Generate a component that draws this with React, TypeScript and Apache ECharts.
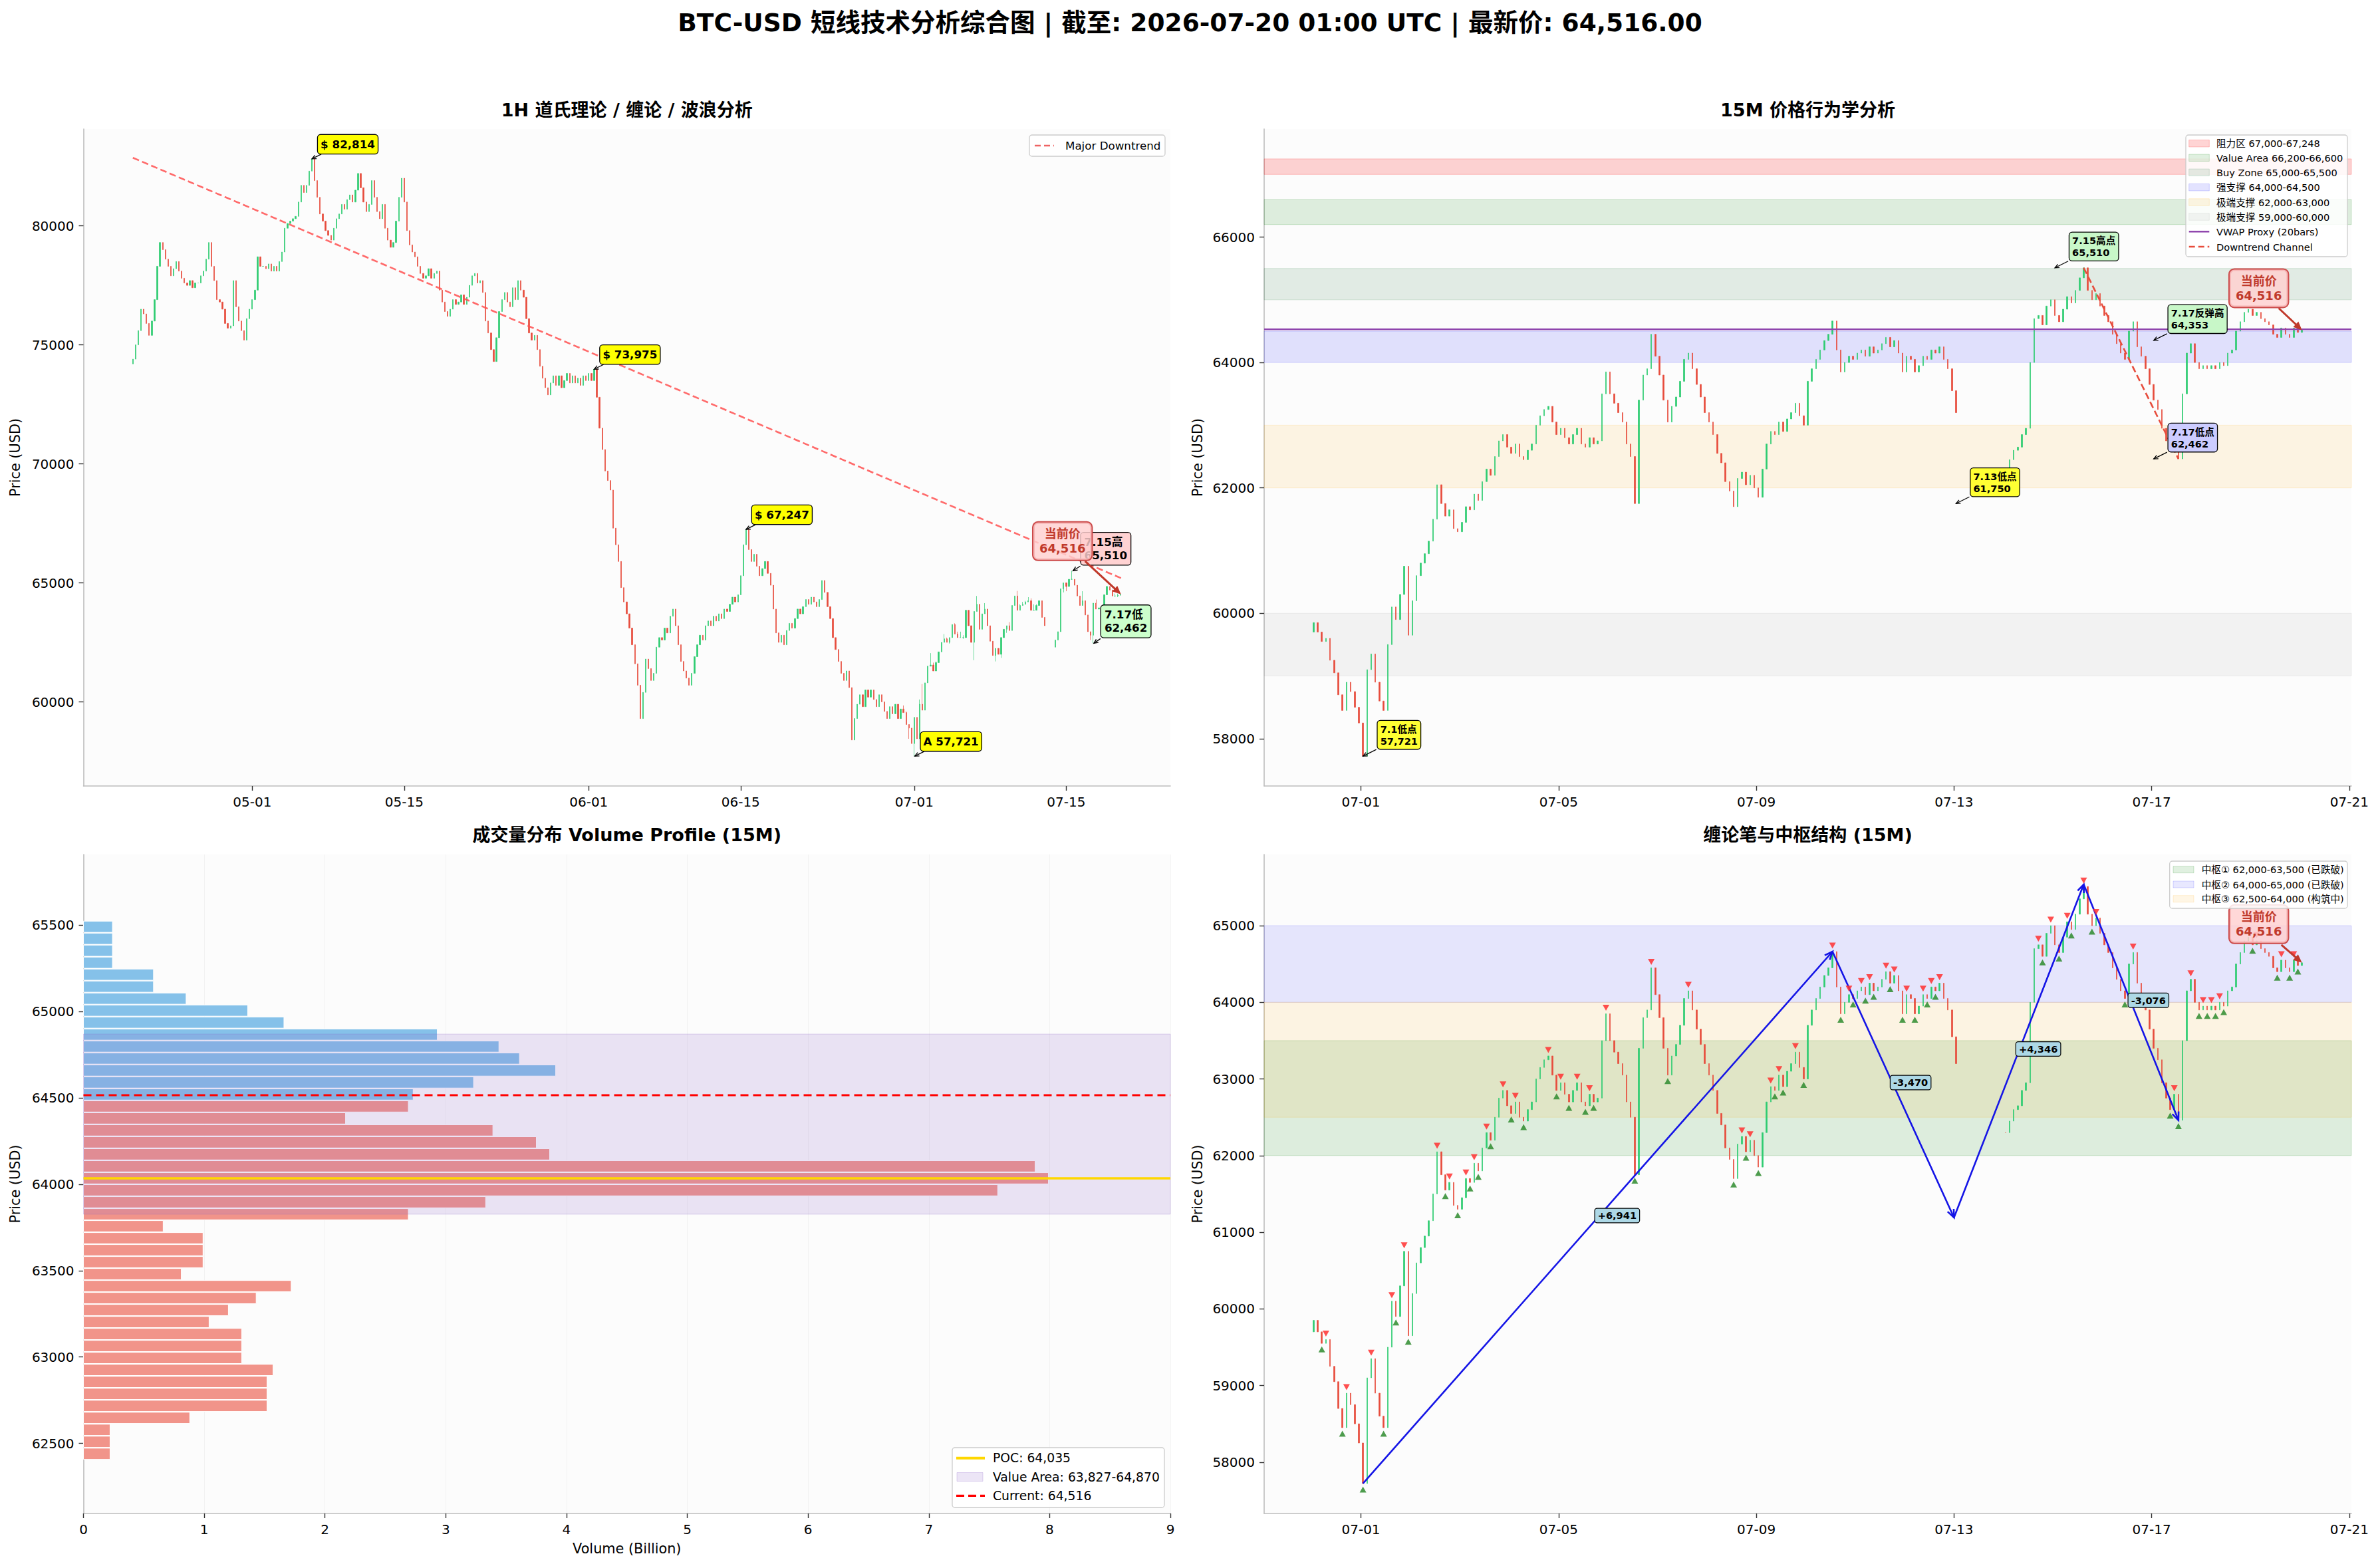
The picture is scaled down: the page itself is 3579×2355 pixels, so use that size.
import React, { useEffect, useRef } from "react";
import * as echarts from "echarts";

const FONT = '"DejaVu Sans", "Noto Sans CJK SC", sans-serif';
const HOUR = 3600 * 1000;
const utc = (month: number, day: number, hour = 0) => Date.UTC(2026, month - 1, day, hour);

// ---------------------------------------------------------------------------
// 6-hour closes for the 1H overview, from 04-20 00:00 UTC (one row = one day)
const H6_START = utc(4, 20, 0);
const H6_FIRST_OPEN = 74200;
const H6_CLOSES = [
  74400, 75000, 75600, 76500, // 04-20
  76300, 75900, 75400, 76000,
  76900, 78300, 79300, 79000,
  78600, 78300, 77900, 78200,
  78500, 78100, 77800, 77600,
  77500, 77700, 77400, 77600, // 04-25
  77600, 77900, 78100, 78600,
  79300, 78300, 77700, 76900,
  76800, 76500, 75900, 75700,
  75800, 77700, 76600, 76000,
  75600, 75200, 76100, 76500, // 04-30
  76900, 77300, 78700, 78300, // 05-01
  78300, 78200, 78400, 78100,
  78300, 78100, 78500, 78900,
  79900, 80100, 80200, 80300,
  80400, 81000, 81700, 81400, // 05-05
  81700, 82300, 82814, 81900,
  81200, 80500, 80200, 79800,
  79600, 79400, 79900, 80300,
  80500, 80900, 80700, 81100,
  81300, 81000, 81500, 82200, // 05-10
  81600, 81000, 80600, 80900,
  81900, 81200, 80600, 80300,
  80900, 79900, 79400, 79100,
  79300, 80200, 81200, 82000,
  81000, 79800, 79200, 78900, // 05-15
  78700, 78300, 78000, 77800,
  77900, 78200, 77800, 78000,
  78100, 77300, 76800, 76400,
  76200, 76500, 76900, 76700,
  76800, 77100, 76700, 77000, // 05-20
  77500, 77900, 78000, 77600,
  77700, 77200, 76000, 75500,
  74800, 74300, 75300, 76400,
  76900, 77200, 76800, 76600,
  77400, 76900, 77700, 77300, // 05-25
  77000, 76100, 75500, 75200,
  75400, 74800, 74100, 73600,
  73200, 72900, 73400, 73700,
  73300, 73700, 73200, 73500,
  73800, 73400, 73700, 73400, // 05-30
  73600, 73300, 73700, 73500,
  73800, 73500, 73975, 72800, // 06-01
  71500, 70600, 69700, 69300,
  68900, 67300, 66600, 65900,
  64800, 64200, 63700, 63100,
  62400, 61600, 60700, 59300, // 06-05
  60400, 61800, 61400, 60900,
  61200, 62300, 62700, 62600,
  63100, 62900, 63600, 63900,
  63200, 62400, 61700, 61300,
  61000, 60700, 61200, 61900, // 06-10
  62400, 62800, 62600, 63200,
  63400, 63200, 63600, 63400,
  63700, 63500, 63900, 63800,
  64100, 64400, 64200, 64500,
  65300, 66600, 67247, 66400, // 06-15
  65900, 66200, 65700, 65300,
  65600, 65900, 65400, 64900,
  63900, 62900, 62500, 62800,
  62400, 63000, 63300, 63100,
  63500, 63900, 63700, 64000, // 06-20
  64300, 64100, 64400, 64200,
  64000, 64300, 65100, 64600,
  64000, 63500, 62700, 62200,
  61700, 61200, 60900, 61300,
  60600, 58400, 59300, 59900, // 06-25
  60300, 59800, 60500, 60200,
  60500, 60100, 59800, 60300,
  60000, 59600, 59300, 59800,
  59500, 59900, 59300, 59700, // 06-29
];

// 2-hour closes shared by the 15M panels, from 06-30 01:00 UTC (one row = one day); null = feed gap
const H2_START = utc(6, 30, 1);
const H2_CLOSES: (number | null)[] = [
  59850, 59700, 59550, 59600, 59250, 59050, 58700, 58450, 58900, 58750, 58500, 58250, // 06-30
  57721, 59100, 59350, 58900, 58600, 58450, 59500, 60100, 59900, 60300, 60750, 59650, // 07-01
  60200, 60600, 60800, 60950, 61150, 61500, 62050, 61750, 61550, 61650, 61350, 61300,
  61450, 61700, 61650, 61900, 61800, 62100, 62300, 62200, 62500, 62750, 62850, 62650,
  62550, 62700, 62500, 62450, 62600, 62700, 63000, 63150, 63250, 63300, 63050, 62850,
  62950, 62800, 62700, 62850, 62950, 62700, 62650, 62800, 62700, 62750, 63500, 63850, // 07-05
  63500, 63350, 63200, 63050, 62700, 62500, 61750, 63400, 63800, 63900, 64450, 64100,
  63800, 63400, 63050, 63300, 63450, 63700, 64050, 64150, 63900, 63650, 63450, 63200,
  63050, 62850, 62550, 62400, 62100, 61950, 61700, 62150, 62250, 62050, 62200, 62000,
  61850, 62300, 62700, 62900, 62850, 63050, 62900, 63100, 63200, 63350, 63150, 63000,
  63700, 63900, 64050, 64200, 64350, 64450, 64662, 64200, 63850, 64000, 64100, 64050, // 07-10
  64150, 64200, 64100, 64250, 64150, 64200, 64300, 64400, 64250, 64350, 64150, 63850,
  64100, 64050, 63850, 63950, 64100, 64050, 64200, 64150, 64250, 64050, 63900, 63550,
  63200, null, null, null, null, null, null, null, null, null, null, null,
  62300, 62450, 62600, 62650, 62850, 62950, 64000, 64700, 64750, 64600, 64900, 65000,
  64750, 64650, 64850, 65050, 64950, 65150, 65350, 65510, 65150, 65000, 65100, 64900, // 07-15
  64750, 64650, 64450, 64300, 64150, 64050, 64500, 64650, 64250, 64100, 63900, 63650,
  63400, 63250, 62950, 62750, 62600, 62800, 62462, 63500, 64150, 64300, 64000, 63900,
  63950, 63900, 63950, 63900, 64000, 63950, 64150, 64200, 64500, 64650, 64800, 64850,
  64750, 64800, 64700, 64650, 64600, 64450, 64400, 64550, 64450, 64400, 64550, 64480,
  64516, // 07-20 01:00
];

const LAST_TIME = utc(7, 20, 1);
const LAST_PRICE = 64516;

// 1H panel: swing labels and the long-term trend line
const SWING_TIME = [utc(5, 6, 12), utc(6, 1, 12), utc(6, 15, 12), utc(7, 1, 1)];
const SWING_PRICE = [82814, 73975, 67247, 57721];
const SWING_TAG = ["$", "$", "$", "A"];
const TREND_TIME = [utc(4, 20, 0), utc(7, 20, 1)];
const TREND_PRICE = [82860, 65200];
const HIGH_715 = { t: utc(7, 15, 15), p: 65510 };
const LOW_717 = { t: utc(7, 17, 13), p: 62462 };

// 15M price-action zones
const PA_ZONE_NAME = ["阻力区", "Value Area", "Buy Zone", "强支撑", "极端支撑", "极端支撑"];
const PA_ZONE_LOW = [67000, 66200, 65000, 64000, 62000, 59000];
const PA_ZONE_HIGH = [67248, 66600, 65500, 64500, 63000, 60000];
const PA_ZONE_FILL = [
  "rgba(255,0,0,0.17)", "rgba(0,128,0,0.12)", "rgba(46,125,70,0.13)",
  "rgba(0,0,255,0.11)", "rgba(255,165,0,0.10)", "rgba(128,128,128,0.08)",
];
const PA_ZONE_EDGE = [
  "rgba(255,0,0,0.22)", "rgba(0,128,0,0.18)", "rgba(46,125,70,0.18)",
  "rgba(0,0,255,0.16)", "rgba(255,165,0,0.16)", "rgba(128,128,128,0.12)",
];
const VWAP_PROXY = 64530;
const CHANNEL_TIME = [HIGH_715.t, LOW_717.t];
const CHANNEL_PRICE = [HIGH_715.p, LOW_717.p];
const PA_LABEL = ["7.15高点", "7.17反弹高", "7.17低点", "7.13低点", "7.1低点"];
const PA_LABEL_TIME = [utc(7, 15, 1), utc(7, 17, 1), utc(7, 17, 1), utc(7, 13, 1), utc(7, 1, 1)];
const PA_LABEL_PRICE = [65510, 64353, 62462, 61750, 57721];
const PA_LABEL_FILL = ["#c8f7c8", "#c8f7c8", "#ccccff", "#ffff33", "#ffff33"];

// Volume profile (15M), billions per price bin, lowest bin first
const PROFILE_LOW = 62405;
const PROFILE_BIN = 69.36;
const PROFILE_VOLUME = [
  0.22, 0.22, 0.22, 0.88, 1.52, 1.52, 1.52, 1.57, 1.31, 1.31,
  1.31, 1.04, 1.20, 1.43, 1.72, 0.81, 0.99, 0.99, 0.99, 0.66,
  2.69, 3.33, 7.57, 7.99, 7.88, 3.86, 3.75, 3.39, 2.17, 2.69,
  2.73, 3.23, 3.91, 3.61, 3.44, 2.93, 1.66, 1.36, 0.85, 0.58,
  0.58, 0.24, 0.24, 0.24, 0.24,
];
const POC = 64035;
const VA_LOW = 63827;
const VA_HIGH = 64870;

// Chan pens and pivot zones (15M)
const PEN_TIME = [utc(7, 1, 1), utc(7, 10, 13), utc(7, 13, 0), utc(7, 15, 15), utc(7, 17, 13)];
const PEN_PRICE = [57721, 64662, 61192, 65538, 62462];
const CHAN_ZONE_NAME = ["中枢①", "中枢②", "中枢③"];
const CHAN_ZONE_LOW = [62000, 64000, 62500];
const CHAN_ZONE_HIGH = [63500, 65000, 64000];
const CHAN_ZONE_STATE = ["已跌破", "已跌破", "构筑中"];
const CHAN_ZONE_FILL = ["rgba(0,128,0,0.12)", "rgba(0,0,255,0.09)", "rgba(255,165,0,0.10)"];
const CHAN_ZONE_EDGE = ["rgba(0,128,0,0.18)", "rgba(0,0,255,0.14)", "rgba(255,165,0,0.16)"];

// axis ticks
const X1_TICKS = [utc(5, 1), utc(5, 15), utc(6, 1), utc(6, 15), utc(7, 1), utc(7, 15)];
const X2_TICKS = [utc(7, 1), utc(7, 5), utc(7, 9), utc(7, 13), utc(7, 17), utc(7, 21)];
const Y1_TICKS = [60000, 65000, 70000, 75000, 80000];
const Y2_TICKS = [58000, 60000, 62000, 64000, 66000];
const Y3_TICKS = [62500, 63000, 63500, 64000, 64500, 65000, 65500];
const Y4_TICKS = [58000, 59000, 60000, 61000, 62000, 63000, 64000, 65000];
const Y3_RANGE = [62094, 65910];
const X3_MAX = 9;

// ---------------------------------------------------------------------------
const UP = "#2ecc71";
const DOWN = "#e74c3c";
const PEN_COLOR = "#1414e6";
const NOW_RED = "#c0392b";

type Candle = [number, number, number, number, number]; // time, open, close, low, high

const fmt = (v: number) => Math.round(v).toLocaleString("en-US");
const mmdd = (t: number) => {
  const d = new Date(t);
  return `${String(d.getUTCMonth() + 1).padStart(2, "0")}-${String(d.getUTCDate()).padStart(2, "0")}`;
};

function buildCandles(times: number[], closes: (number | null)[], firstOpen: number): Candle[] {
  const out: Candle[] = [];
  let prev: number | null = firstOpen;
  closes.forEach((c, i) => {
    if (c == null) {
      prev = null;
      return;
    }
    const o = prev == null ? c : prev;
    out.push([times[i], o, c, Math.min(o, c), Math.max(o, c)]);
    prev = c;
  });
  return out;
}

function resample(cs: Candle[], start: number, step: number): Candle[] {
  const out: Candle[] = [];
  const byBucket = new Map<number, Candle>();
  cs.forEach((c) => {
    const b = start + Math.floor((c[0] - start) / step) * step;
    const cur = byBucket.get(b);
    if (!cur) {
      const n: Candle = [b, c[1], c[2], c[3], c[4]];
      byBucket.set(b, n);
      out.push(n);
    } else {
      cur[2] = c[2];
      cur[3] = Math.min(cur[3], c[3]);
      cur[4] = Math.max(cur[4], c[4]);
    }
  });
  return out;
}

// fractal turning points: a close above (below) its k neighbours on each side
function fractals(times: number[], closes: (number | null)[], k: number) {
  const tops: number[][] = [];
  const bottoms: number[][] = [];
  for (let i = k; i < closes.length - k; i++) {
    const c = closes[i];
    if (c == null) continue;
    let top = true;
    let bot = true;
    for (let j = i - k; j <= i + k; j++) {
      if (j === i) continue;
      const v = closes[j];
      if (v == null) {
        top = false;
        bot = false;
        break;
      }
      if (v >= c) top = false;
      if (v <= c) bot = false;
    }
    if (top) tops.push([times[i], c]);
    if (bot) bottoms.push([times[i], c]);
  }
  return { tops, bottoms };
}

const h6Times = H6_CLOSES.map((_, i) => H6_START + i * 6 * HOUR);
const h2Times = H2_CLOSES.map((_, i) => H2_START + i * 2 * HOUR);
const candles2h = buildCandles(h2Times, H2_CLOSES, H6_CLOSES[H6_CLOSES.length - 1]);
const candles1h = buildCandles(h6Times, H6_CLOSES, H6_FIRST_OPEN).concat(
  resample(candles2h, H6_START, 6 * HOUR)
);
const marks = fractals(h2Times, H2_CLOSES, 1);

const padRange = (lo: number, hi: number, f = 0.05) => [lo - (hi - lo) * f, hi + (hi - lo) * f];
const lows = (cs: Candle[]) => Math.min(...cs.map((c) => c[3]));
const highs = (cs: Candle[]) => Math.max(...cs.map((c) => c[4]));

const X1 = padRange(H6_START, LAST_TIME);
const X2 = padRange(H2_START, LAST_TIME);
const Y1 = padRange(lows(candles1h), highs(candles1h));
const Y2 = padRange(Math.min(lows(candles2h), ...PA_ZONE_LOW), Math.max(highs(candles2h), ...PA_ZONE_HIGH));
const Y4 = padRange(Math.min(lows(candles2h), ...PEN_PRICE), Math.max(highs(candles2h), ...PEN_PRICE));

// ---------------------------------------------------------------------------
// layout of the four panels (px)
const GRIDS = [
  { left: 125.5, top: 194, width: 1634.5, height: 988 },
  { left: 1901, top: 194, width: 1635, height: 988 },
  { left: 125.5, top: 1285, width: 1634.5, height: 991 },
  { left: 1901, top: 1285, width: 1635, height: 991 },
];

const axisLine = { show: true, lineStyle: { color: "#bdbdbd", width: 1.6 } };
const tickStyle = { show: true, length: 7, lineStyle: { color: "#333333", width: 1.4 } };
const labelStyle = { color: "#000000", fontSize: 20, fontFamily: FONT, margin: 14 };

function xTimeAxis(gridIndex: number, range: number[], ticks: number[]) {
  return {
    type: "value",
    gridIndex,
    min: range[0],
    max: range[1],
    axisLine,
    axisTick: { ...tickStyle, customValues: ticks },
    axisLabel: { ...labelStyle, customValues: ticks, formatter: (v: number) => mmdd(v) },
    splitLine: { show: false },
  };
}
function yPriceAxis(gridIndex: number, range: number[], ticks: number[]) {
  return {
    type: "value",
    gridIndex,
    min: range[0],
    max: range[1],
    axisLine,
    axisTick: { ...tickStyle, customValues: ticks },
    axisLabel: { ...labelStyle, customValues: ticks, formatter: (v: number) => String(Math.round(v)) },
    splitLine: { show: false },
  };
}

// ---------------------------------------------------------------------------
// callouts: a label box joined to its point by an arrow
type Note = {
  t: number; p: number; text: string;
  bx: number; by: number; align: string; vAlign: string;
  sx: number; sy: number;
  fill: string; stroke: string; strokeW: number; color: string; size: number;
  radius: number; pad: number[];
  arrow: string; arrowW: number; head: number; solid: boolean;
};

function boxNote(t: number, p: number, text: string, fill: string, size: number,
  bx: number, by: number, sx: number, sy: number, pad: number[]): Note {
  return {
    t, p, text, bx, by, align: "left", vAlign: "bottom", sx, sy,
    fill, stroke: "#000000", strokeW: 1.3, color: "#000000", size, radius: 4, pad,
    arrow: "#000000", arrowW: 1.3, head: 7, solid: false,
  };
}
function nowNote(bx: number, by: number, sx: number, sy: number): Note {
  return {
    t: LAST_TIME, p: LAST_PRICE, text: `当前价\n${fmt(LAST_PRICE)}`, bx, by, align: "center", vAlign: "middle", sx, sy,
    fill: "rgba(255,208,208,0.82)", stroke: "#cc4a4a", strokeW: 2, color: NOW_RED, size: 18, radius: 7, pad: [6, 9],
    arrow: NOW_RED, arrowW: 3, head: 14, solid: true,
  };
}

function noteRenderer(notes: Note[]) {
  return (params: any, api: any) => {
    const n = notes[params.dataIndex];
    const [x, y] = api.coord([n.t, n.p]);
    const tx = x + n.sx;
    const ty = y + n.sy;
    const ang = Math.atan2(y - ty, x - tx);
    const h1 = [x - n.head * Math.cos(ang - 0.42), y - n.head * Math.sin(ang - 0.42)];
    const h2 = [x - n.head * Math.cos(ang + 0.42), y - n.head * Math.sin(ang + 0.42)];
    const ex = n.solid ? x - n.head * 0.7 * Math.cos(ang) : x;
    const ey = n.solid ? y - n.head * 0.7 * Math.sin(ang) : y;
    return {
      type: "group",
      children: [
        { type: "line", shape: { x1: tx, y1: ty, x2: ex, y2: ey }, style: { stroke: n.arrow, lineWidth: n.arrowW } },
        n.solid
          ? { type: "polygon", shape: { points: [[x, y], h1, h2] }, style: { fill: n.arrow } }
          : { type: "polyline", shape: { points: [h1, [x, y], h2] }, style: { stroke: n.arrow, lineWidth: n.arrowW, fill: "none" } },
        {
          type: "text",
          x: x + n.bx,
          y: y + n.by,
          style: {
            text: n.text,
            font: `bold ${n.size}px ${FONT}`,
            fill: n.color,
            align: n.align,
            verticalAlign: n.vAlign,
            lineHeight: Math.round(n.size * 1.2),
            backgroundColor: n.fill,
            borderColor: n.stroke,
            borderWidth: n.strokeW,
            borderRadius: n.radius,
            padding: n.pad,
          },
        },
      ],
    };
  };
}

function noteSeries(notes: Note[], axis: number) {
  return {
    type: "custom",
    xAxisIndex: axis,
    yAxisIndex: axis,
    data: notes.map((n) => [n.t, n.p]),
    encode: { x: 0, y: 1 },
    renderItem: noteRenderer(notes),
    clip: false,
    silent: true,
    z: 20,
  };
}

// horizontal bands across a whole panel
function bandSeries(axis: number, xRange: number[], lo: number[], hi: number[], fill: string[], edge: string[], z: number) {
  return {
    type: "custom",
    xAxisIndex: axis,
    yAxisIndex: axis,
    data: lo.map((l, i) => [(xRange[0] + xRange[1]) / 2, l, hi[i]]),
    encode: { x: 0, y: [1, 2] },
    renderItem: (params: any, api: any) => {
      const i = params.dataIndex;
      const [xl, yt] = api.coord([xRange[0], hi[i]]);
      const [xr, yb] = api.coord([xRange[1], lo[i]]);
      return {
        type: "rect",
        shape: { x: xl, y: yt, width: xr - xl, height: yb - yt },
        style: { fill: fill[i], stroke: edge[i], lineWidth: 1 },
      };
    },
    silent: true,
    z,
  };
}

function segment(axis: number, xs: number[], ys: number[], color: string, width: number, dash: any, z: number) {
  return {
    type: "line",
    xAxisIndex: axis,
    yAxisIndex: axis,
    data: xs.map((x, i) => [x, ys[i]]),
    symbol: "none",
    showSymbol: false,
    lineStyle: { color, width, type: dash },
    silent: true,
    z,
  };
}

function candleSeries(axis: number, data: Candle[], width: number) {
  return {
    type: "candlestick",
    xAxisIndex: axis,
    yAxisIndex: axis,
    data,
    encode: { x: 0, y: [1, 2, 3, 4] },
    barWidth: width,
    large: false,
    itemStyle: { color: UP, color0: DOWN, borderColor: UP, borderColor0: DOWN, borderWidth: 0.7 },
    silent: true,
    z: 3,
  };
}

// ---------------------------------------------------------------------------
const notes1: Note[] = [
  ...SWING_TIME.map((t, i) =>
    boxNote(t, SWING_PRICE[i], `${SWING_TAG[i]} ${fmt(SWING_PRICE[i])}`, "#ffff00", 16.7, 9, -8, 14, -7, [4, 4])
  ),
  boxNote(HIGH_715.t, HIGH_715.p, `7.15高\n${fmt(HIGH_715.p)}`, "#ffd2d2", 16.7, 12, -9, 11, -7, [4, 5]),
  boxNote(LOW_717.t, LOW_717.p, `7.17低\n${fmt(LOW_717.p)}`, "#ccffcc", 16.7, 11, -9, 10, -7, [4, 5]),
  nowNote(-88, -80, -54, -50),
];
const notes2: Note[] = [
  ...PA_LABEL.map((l, i) =>
    boxNote(PA_LABEL_TIME[i], PA_LABEL_PRICE[i], `${l}\n${fmt(PA_LABEL_PRICE[i])}`, PA_LABEL_FILL[i], 14.6, 22, -11, 20, -10, [3, 4])
  ),
  nowNote(-65, -63, -35, -33),
];
const notes4: Note[] = [nowNote(-65, -58, -31, -27)];

// volume profile bars
const profileSeries = {
  type: "custom",
  xAxisIndex: 2,
  yAxisIndex: 2,
  data: PROFILE_VOLUME.map((v, i) => [v, PROFILE_LOW + (i + 0.5) * PROFILE_BIN]),
  encode: { x: 0, y: 1 },
  renderItem: (params: any, api: any) => {
    const i = params.dataIndex;
    const lo = PROFILE_LOW + i * PROFILE_BIN;
    const hi = lo + PROFILE_BIN;
    const [x0, y0] = api.coord([0, lo]);
    const [x1, y1] = api.coord([PROFILE_VOLUME[i], hi]);
    const center = lo + PROFILE_BIN / 2;
    return {
      type: "rect",
      shape: { x: x0, y: y1 + 0.6, width: x1 - x0, height: y0 - y1 - 1.2 },
      style: { fill: center >= LAST_PRICE ? "#85c1e9" : "#f1948a", stroke: "#ffffff", lineWidth: 1 },
    };
  },
  silent: true,
  z: 2,
};

// Chan pens with their move size
const penSeries = {
  type: "custom",
  xAxisIndex: 3,
  yAxisIndex: 3,
  data: PEN_TIME.slice(0, -1).map((t, i) => [t, PEN_PRICE[i], PEN_TIME[i + 1], PEN_PRICE[i + 1]]),
  encode: { x: [0, 2], y: [1, 3] },
  renderItem: (params: any, api: any) => {
    const i = params.dataIndex;
    const [x0, y0] = api.coord([PEN_TIME[i], PEN_PRICE[i]]);
    const [x1, y1] = api.coord([PEN_TIME[i + 1], PEN_PRICE[i + 1]]);
    const ang = Math.atan2(y1 - y0, x1 - x0);
    const L = 13;
    const h1 = [x1 - L * Math.cos(ang - 0.4), y1 - L * Math.sin(ang - 0.4)];
    const h2 = [x1 - L * Math.cos(ang + 0.4), y1 - L * Math.sin(ang + 0.4)];
    const diff = PEN_PRICE[i + 1] - PEN_PRICE[i];
    const label = `${diff > 0 ? "+" : "-"}${fmt(Math.abs(diff))}`;
    return {
      type: "group",
      children: [
        { type: "line", shape: { x1: x0, y1: y0, x2: x1, y2: y1 }, style: { stroke: PEN_COLOR, lineWidth: 2.6 } },
        { type: "polyline", shape: { points: [h1, [x1, y1], h2] }, style: { stroke: PEN_COLOR, lineWidth: 2.6, fill: "none" } },
        {
          type: "text",
          x: (x0 + x1) / 2 - 4,
          y: (y0 + y1) / 2 - 3,
          style: {
            text: label,
            font: `bold 14.6px ${FONT}`,
            fill: "#000000",
            align: "left",
            verticalAlign: "middle",
            backgroundColor: "#add8e6",
            borderColor: "#000000",
            borderWidth: 1.2,
            borderRadius: 3,
            padding: [3, 4],
          },
        },
      ],
    };
  },
  clip: false,
  silent: true,
  z: 8,
};

// ---------------------------------------------------------------------------
// titles, axis names and legends
function text(x: number, y: number, s: string, size: number, bold = false, rotation = 0) {
  return {
    type: "text",
    x,
    y,
    rotation,
    style: { text: s, font: `${bold ? "bold " : ""}${size}px ${FONT}`, fill: "#000000", align: "center", verticalAlign: "middle" },
    z: 100,
  };
}
function legendFrame(x: number, y: number, w: number, h: number) {
  return {
    type: "rect",
    shape: { x, y, width: w, height: h, r: 4 },
    style: { fill: "rgba(255,255,255,0.85)", stroke: "#cccccc", lineWidth: 1.3 },
    z: 100,
  };
}
function legendLabel(x: number, y: number, s: string, size: number) {
  return { type: "text", x, y, style: { text: s, font: `${size}px ${FONT}`, fill: "#000000", align: "left", verticalAlign: "middle" }, z: 101 };
}
function legendPatch(x: number, y: number, w: number, h: number, fill: string, stroke: string) {
  return { type: "rect", shape: { x, y: y - h / 2, width: w, height: h }, style: { fill, stroke, lineWidth: 1 }, z: 101 };
}
function legendLine(x1: number, x2: number, y: number, color: string, width: number, dash?: number[]) {
  return { type: "line", shape: { x1, y1: y, x2, y2: y }, style: { stroke: color, lineWidth: width, lineDash: dash }, z: 101 };
}

const PA_ROWS = [215.7, 237.3, 259.3, 281.7, 304, 326, 348.3, 371];
const CHAN_ROWS = [1307.7, 1330, 1351.7];
const VP_ROWS = [2192.7, 2221, 2249.3];

const graphics: any[] = [
  text(1789.5, 34, `BTC-USD 短线技术分析综合图 | 截至: 2026-07-20 01:00 UTC | 最新价: ${fmt(LAST_PRICE)}.00`, 37.5, true),
  text(942.75, 165, "1H 道氏理论 / 缠论 / 波浪分析", 27, true),
  text(2718.5, 165, "15M 价格行为学分析", 27, true),
  text(942.75, 1255, "成交量分布 Volume Profile (15M)", 27, true),
  text(2718.5, 1255, "缠论笔与中枢结构 (15M)", 27, true),
  text(23, 688, "Price (USD)", 20.8, false, Math.PI / 2),
  text(1801, 688, "Price (USD)", 20.8, false, Math.PI / 2),
  text(23, 1780.5, "Price (USD)", 20.8, false, Math.PI / 2),
  text(1801, 1780.5, "Price (USD)", 20.8, false, Math.PI / 2),
  text(942.75, 2329, "Volume (Billion)", 20.8),

  // 1H legend
  legendFrame(1548, 203, 204, 32),
  legendLine(1556, 1585, 219, "#ee6464", 2.6, [9, 5]),
  legendLabel(1602, 219, "Major Downtrend", 16.7),

  // 15M price-action legend
  legendFrame(3287, 203, 243, 183),
  ...PA_ZONE_NAME.map((n, i) => legendPatch(3291.7, PA_ROWS[i], 30.6, 10.5, PA_ZONE_FILL[i], PA_ZONE_EDGE[i])),
  ...PA_ZONE_NAME.map((n, i) => legendLabel(3333, PA_ROWS[i], `${n} ${fmt(PA_ZONE_LOW[i])}-${fmt(PA_ZONE_HIGH[i])}`, 14.6)),
  legendLine(3291.7, 3322.3, PA_ROWS[6], "#8e44ad", 2.5),
  legendLabel(3333, PA_ROWS[6], "VWAP Proxy (20bars)", 14.6),
  legendLine(3291.7, 3322.3, PA_ROWS[7], "#e74c3c", 2.5, [9, 5]),
  legendLabel(3333, PA_ROWS[7], "Downtrend Channel", 14.6),

  // volume profile legend
  legendFrame(1432, 2177, 319, 90),
  legendLine(1438, 1481, VP_ROWS[0], "#ffd700", 4),
  legendLabel(1493, VP_ROWS[0], `POC: ${fmt(POC)}`, 18.75),
  legendPatch(1439, VP_ROWS[1], 39, 13, "rgba(140,100,200,0.17)", "rgba(140,100,200,0.25)"),
  legendLabel(1493, VP_ROWS[1], `Value Area: ${fmt(VA_LOW)}-${fmt(VA_HIGH)}`, 18.75),
  legendLine(1438, 1481, VP_ROWS[2], "#ff0000", 3.2, [12, 6]),
  legendLabel(1493, VP_ROWS[2], `Current: ${fmt(LAST_PRICE)}`, 18.75),

  // Chan legend
  legendFrame(3262.7, 1295, 267.3, 71),
  ...CHAN_ZONE_NAME.map((n, i) => legendPatch(3268, CHAN_ROWS[i], 31, 10, CHAN_ZONE_FILL[i], CHAN_ZONE_EDGE[i])),
  ...CHAN_ZONE_NAME.map((n, i) =>
    legendLabel(3310.7, CHAN_ROWS[i], `${n} ${fmt(CHAN_ZONE_LOW[i])}-${fmt(CHAN_ZONE_HIGH[i])} (${CHAN_ZONE_STATE[i]})`, 14.6)
  ),
];

// ---------------------------------------------------------------------------
function buildOption() {
  return {
    backgroundColor: "#ffffff",
    animation: false,
    textStyle: { fontFamily: FONT },
    grid: GRIDS.map((g) => ({ ...g, show: true, backgroundColor: "#fcfcfc", borderWidth: 0 })),
    xAxis: [
      xTimeAxis(0, X1, X1_TICKS),
      xTimeAxis(1, X2, X2_TICKS),
      {
        type: "value",
        gridIndex: 2,
        min: 0,
        max: X3_MAX,
        interval: 1,
        axisLine,
        axisTick: tickStyle,
        axisLabel: labelStyle,
        splitLine: { show: true, lineStyle: { color: "rgba(0,0,0,0.04)", width: 1 } },
      },
      xTimeAxis(3, X2, X2_TICKS),
    ],
    yAxis: [
      yPriceAxis(0, Y1, Y1_TICKS),
      yPriceAxis(1, Y2, Y2_TICKS),
      yPriceAxis(2, Y3_RANGE, Y3_TICKS),
      yPriceAxis(3, Y4, Y4_TICKS),
    ],
    series: [
      // 1H overview
      candleSeries(0, candles1h, 1.8),
      segment(0, TREND_TIME, TREND_PRICE, "rgba(255,80,80,0.85)", 2.6, [10, 5], 4),
      noteSeries(notes1, 0),

      // 15M price action
      bandSeries(1, X2, PA_ZONE_LOW, PA_ZONE_HIGH, PA_ZONE_FILL, PA_ZONE_EDGE, 1),
      candleSeries(1, candles2h, 2),
      segment(1, X2, [VWAP_PROXY, VWAP_PROXY], "#8e44ad", 2.5, "solid", 4),
      segment(1, CHANNEL_TIME, CHANNEL_PRICE, "#e74c3c", 2.6, [10, 5], 5),
      noteSeries(notes2, 1),

      // volume profile
      profileSeries,
      bandSeries(2, [0, X3_MAX], [VA_LOW], [VA_HIGH], ["rgba(140,100,200,0.17)"], ["rgba(140,100,200,0.25)"], 5),
      segment(2, [0, X3_MAX], [POC, POC], "#ffd700", 3.6, "solid", 6),
      segment(2, [0, X3_MAX], [LAST_PRICE, LAST_PRICE], "#ff0000", 3.2, [12, 7], 7),

      // Chan structure
      bandSeries(3, X2, CHAN_ZONE_LOW, CHAN_ZONE_HIGH, CHAN_ZONE_FILL, CHAN_ZONE_EDGE, 1),
      candleSeries(3, candles2h, 2),
      penSeries,
      {
        type: "scatter",
        xAxisIndex: 3,
        yAxisIndex: 3,
        data: marks.tops,
        symbol: "triangle",
        symbolRotate: 180,
        symbolSize: [10, 9],
        symbolOffset: [0, -9],
        itemStyle: { color: "#ff3030", opacity: 0.85 },
        silent: true,
        z: 9,
      },
      {
        type: "scatter",
        xAxisIndex: 3,
        yAxisIndex: 3,
        data: marks.bottoms,
        symbol: "triangle",
        symbolSize: [10, 9],
        symbolOffset: [0, 9],
        itemStyle: { color: "#2e8b2e", opacity: 0.85 },
        silent: true,
        z: 9,
      },
      noteSeries(notes4, 3),
    ],
    graphic: { elements: graphics },
  };
}

export default function App() {
  const ref = useRef<HTMLDivElement | null>(null);
  useEffect(() => {
    if (!ref.current) return;
    const chart = echarts.init(ref.current, undefined, { renderer: "svg" });
    chart.setOption(buildOption() as any);
    return () => chart.dispose();
  }, []);
  return (
    <div
      ref={ref}
      style={{ position: "absolute", left: 0, top: 0, width: 3579, height: 2355, background: "#ffffff" }}
    />
  );
}
